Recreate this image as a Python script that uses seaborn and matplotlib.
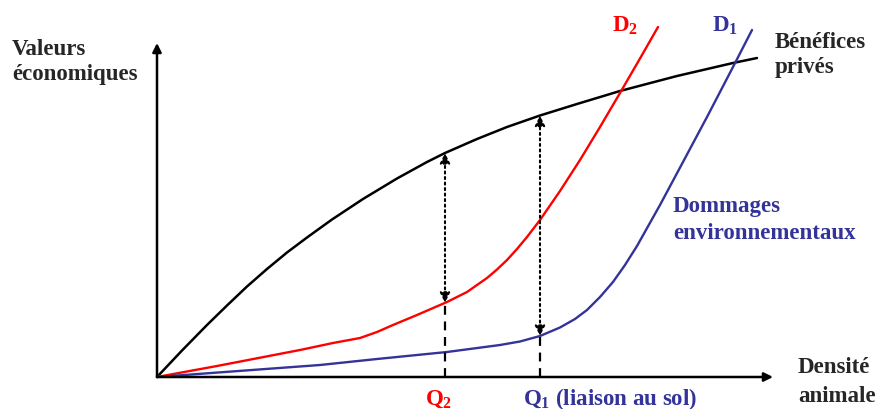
import numpy as np
import matplotlib.pyplot as plt
import seaborn as sns

benef_x = [0, 25, 50, 70, 90, 110, 130, 150, 175, 206, 240, 270, 288, 320, 350, 383, 420, 463, 520, 576, 600]
benef_y = [0, 26.5, 52, 71.5, 90.5, 108, 124.5, 139.5, 157.5, 178, 198.5, 215, 224, 238, 250, 261.5, 273, 286, 301, 314, 319]

d2_x = [0, 60, 143, 176, 203, 220, 236, 260, 290, 310, 330, 340, 350, 360, 370, 383, 403, 423, 443, 463, 483, 501]
d2_y = [0, 11, 27, 34, 39, 45, 52, 62, 75, 85, 99, 107.5, 117, 128, 140, 157, 186, 217, 250, 284, 318.5, 350]

d1_x = [0, 163, 220, 290, 343, 363, 383, 403, 418, 430, 443, 456, 468, 480, 503, 526, 550, 576, 595]
d1_y = [0, 12, 18, 25, 32, 35.5, 41, 49.5, 58, 67, 80, 95, 112, 131, 172, 215, 260, 310, 347]

# densités Q2 et Q1
q2 = 288
q1 = 383

RED = '#ff0000'
BLUE = '#333399'

sns.set_theme(style='white')
plt.rcParams['font.family'] = ['Liberation Serif', 'DejaVu Serif']
plt.rcParams['font.weight'] = 'bold'
plt.rcParams['mathtext.fontset'] = 'custom'
plt.rcParams['mathtext.rm'] = 'Liberation Serif:bold'
plt.rcParams['mathtext.bf'] = 'Liberation Serif:bold'
plt.rcParams['mathtext.it'] = 'Liberation Serif:bold:italic'

fig = plt.figure(figsize=(8.77, 4.09), dpi=100)
ax = fig.add_axes([0, 0, 1, 1])
ax.set_xlim(-157, 720)
ax.set_ylim(-32, 377)
ax.axis('off')

# axes avec flèches
arrow = dict(arrowstyle='-|>', lw=1.8, color='black', mutation_scale=13,
             shrinkA=0, shrinkB=0)
ax.annotate('', xy=(0, 334), xytext=(0, 0), arrowprops=arrow)
ax.annotate('', xy=(616, 0), xytext=(0, 0), arrowprops=arrow)

# courbes
sns.lineplot(x=benef_x, y=benef_y, ax=ax, color='black', lw=1.8, sort=False, estimator=None)
sns.lineplot(x=d2_x, y=d2_y, ax=ax, color=RED, lw=1.7, sort=False, estimator=None)
sns.lineplot(x=d1_x, y=d1_y, ax=ax, color=BLUE, lw=1.7, sort=False, estimator=None)

# écarts bénéfices / dommages aux densités Q2 et Q1
for q, dx, dy in [(q2, d2_x, d2_y), (q1, d1_x, d1_y)]:
    top = np.interp(q, benef_x, benef_y)
    low = np.interp(q, dx, dy)
    ax.annotate('', xy=(q, top), xytext=(q, low),
                arrowprops=dict(arrowstyle='<|-|>', linestyle=':', lw=1.5,
                                color='black', mutation_scale=15,
                                shrinkA=0, shrinkB=0))
    ax.plot([q, q], [0, low], color='black', lw=1.6, ls=(0, (4, 3)))

# textes
fs = 16.5
ax.text(-145, 322, 'Valeurs', fontsize=fs, va='baseline')
ax.text(-145, 297, 'économiques', fontsize=fs, va='baseline')

ax.text(618, 329, 'Bénéfices', fontsize=fs, va='baseline')
ax.text(618, 304, 'privés', fontsize=fs, va='baseline')

ax.text(516, 165, 'Dommages', fontsize=fs, va='baseline', color=BLUE)
ax.text(516, 138, 'environnementaux', fontsize=fs, va='baseline', color=BLUE)

ax.text(641, 4, 'Densité', fontsize=fs, va='baseline')
ax.text(641, -25, 'animale', fontsize=fs, va='baseline')

ax.text(455, 345, r'$\mathbf{D_2}$', fontsize=fs, va='baseline', color=RED)
ax.text(555, 345, r'$\mathbf{D_1}$', fontsize=fs, va='baseline', color=BLUE)

ax.text(268, -28, r'$\mathbf{Q_2}$', fontsize=fs, va='baseline', color=RED)
ax.text(366, -28, r'$\mathbf{Q_1}$ (liaison au sol)', fontsize=fs, va='baseline', color=BLUE)

fig.savefig('out.png', dpi=100, facecolor='white')
